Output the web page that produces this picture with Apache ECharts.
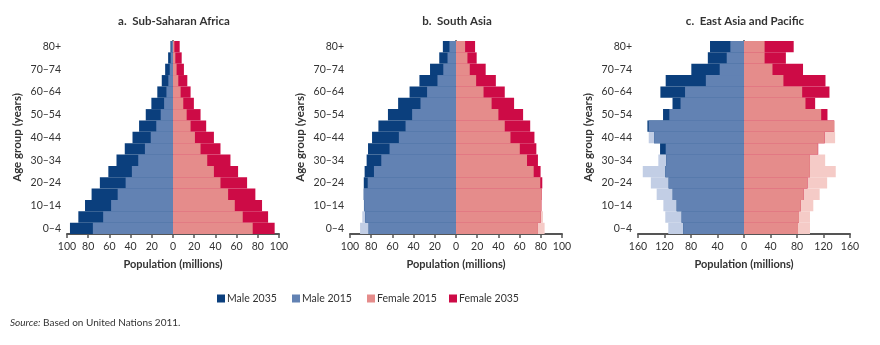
<!DOCTYPE html>
<html>
<head>
<meta charset="utf-8">
<script src="https://cdn.jsdelivr.net/npm/echarts@6/dist/echarts.min.js"></script>
<style>
html,body{margin:0;padding:0;background:#fff;}
#chart{width:880px;height:345px;}
</style>
</head>
<body>
<div id="chart"></div>
<script>
// Age groups (bottom to top)
const ageGroups = ['0–4','5–9','10–14','15–19','20–24','25–29','30–34','35–39','40–44','45–49','50–54','55–59','60–64','65–69','70–74','75–79','80+'];

// a. Sub-Saharan Africa (millions)
const maleA2015   = [75.6, 65.9, 58.4, 52.2, 44.7, 38.8, 32.8, 26.5, 21.0, 15.8, 11.6, 8.4, 6.2, 4.4, 3.1, 2.2, 1.5];
const maleA2035   = [97.2, 89.3, 83.0, 76.8, 69.0, 61.0, 53.3, 45.5, 38.2, 32.0, 25.7, 20.4, 14.8, 10.6, 7.4, 4.6, 2.4];
const femaleA2015 = [75.2, 65.8, 58.3, 52.0, 44.8, 38.6, 32.3, 26.0, 20.7, 16.6, 12.9, 9.7, 7.2, 5.0, 3.4, 2.2, 1.3];
const femaleA2035 = [95.9, 89.7, 84.0, 77.7, 69.9, 61.4, 54.2, 44.8, 38.6, 31.3, 26.0, 19.7, 16.6, 13.5, 10.3, 8.2, 6.3];

// b. South Asia
const maleB2015   = [90.5, 88.4, 87.0, 87.0, 83.3, 77.4, 70.5, 62.7, 53.9, 47.6, 41.4, 33.5, 27.3, 17.5, 12.0, 8.0, 6.2];
const maleB2035   = [82.4, 85.6, 86.6, 87.0, 87.0, 86.2, 84.3, 83.0, 79.2, 73.2, 64.2, 54.6, 43.8, 34.5, 24.5, 15.8, 12.4];
const femaleB2015 = [83.6, 82.0, 80.6, 80.8, 79.5, 73.3, 67.0, 60.2, 51.4, 46.0, 40.0, 33.6, 26.0, 19.0, 13.0, 10.8, 8.6];
const femaleB2035 = [77.3, 80.0, 80.5, 80.8, 81.4, 79.8, 77.3, 75.8, 74.0, 70.0, 63.3, 54.8, 46.0, 37.6, 28.0, 19.5, 18.0];

// c. East Asia and Pacific
const maleC2015   = [114.3, 118.8, 121.7, 131.8, 140.6, 152.8, 129.3, 118.2, 143.8, 143.8, 112.7, 95.8, 89.0, 57.6, 36.7, 26.1, 20.6];
const maleC2035   = [91.6, 94.1, 101.6, 107.6, 113.7, 118.7, 117.4, 126.7, 135.7, 145.8, 122.2, 107.9, 126.2, 118.2, 79.5, 54.6, 51.3];
const femaleC2015 = [99.6, 99.6, 104.6, 114.2, 125.5, 138.5, 122.5, 111.5, 137.5, 137.0, 116.5, 92.8, 87.8, 59.5, 43.0, 31.1, 31.1];
const femaleC2035 = [81.5, 83.0, 85.8, 90.3, 95.8, 99.5, 99.5, 112.0, 121.8, 136.0, 126.0, 107.4, 129.0, 123.0, 89.1, 63.2, 75.0];

const panelTitles = ['a.  Sub-Saharan Africa', 'b.  South Asia', 'c.  East Asia and Pacific'];
const axisMax = [100, 100, 160];
const axisStep = [20, 20, 40];
const legendNames = ['Male 2035', 'Male 2015', 'Female 2015', 'Female 2035'];

const C = {
  navy: '#0b3f7d', blue: '#6282b3', lightBlue: '#c2cee5',
  pink: '#e58c8b', red: '#cd0b46', lightPink: '#f5cbc7'
};
const FONT = 'Lato, "Noto Sans", sans-serif';
const TXT = '#333';

const panels = [
  {m15: maleA2015, m35: maleA2035, f15: femaleA2015, f35: femaleA2035},
  {m15: maleB2015, m35: maleB2035, f15: femaleB2015, f35: femaleB2035},
  {m15: maleC2015, m35: maleC2035, f15: femaleC2015, f35: femaleC2035}
];
const gridLeft = [67, 350, 638];

const grids = [], xAxes = [], yAxes = [], series = [], titles = [];
panels.forEach((p, i) => {
  grids.push({left: gridLeft[i], top: 41, width: 212, height: 193});
  titles.push({
    text: panelTitles[i], left: gridLeft[i] + 107, top: 15, padding: 0, textAlign: 'center',
    textStyle: {fontFamily: FONT, fontSize: 11.5, fontWeight: 'bold', color: TXT}
  });
  xAxes.push({
    type: 'value', gridIndex: i, min: -axisMax[i], max: axisMax[i], interval: axisStep[i],
    name: 'Population (millions)', nameLocation: 'middle', nameGap: 25,
    nameTextStyle: {fontFamily: FONT, fontSize: 11, fontWeight: 'bold', color: TXT},
    axisLine: {show: true, lineStyle: {color: '#555', width: 2}},
    axisTick: {show: true, length: 4, lineStyle: {color: '#555', width: 1.5}},
    axisLabel: {fontFamily: FONT, fontSize: 10.5, color: TXT, margin: 7, formatter: v => Math.abs(v)},
    splitLine: {show: false}
  });
  yAxes.push({
    type: 'category', gridIndex: i, data: ageGroups, boundaryGap: true,
    name: 'Age group (years)', nameLocation: 'middle', nameGap: 44, nameRotate: 90,
    nameTextStyle: {fontFamily: FONT, fontSize: 11.5, fontWeight: 'bold', color: TXT},
    axisLine: {show: true, lineStyle: {color: '#555', width: 2}},
    axisTick: {show: false},
    axisLabel: {interval: 1, fontFamily: FONT, fontSize: 10.5, color: TXT, margin: 6},
    splitLine: {show: false}
  });
  const common = {type: 'bar', xAxisIndex: i, yAxisIndex: i, barCategoryGap: 0, barGap: '-100%', barWidth: '100%'};
  // Bottom layer: 2015 (pale, visible only where 2015 exceeds 2035); middle: 2035; top: overlap of both
  const mMin = p.m15.map((v, k) => -Math.min(v, p.m35[k]));
  const fMin = p.f15.map((v, k) => Math.min(v, p.f35[k]));
  series.push(
    Object.assign({name: 'Male 2015 (excess)', data: p.m15.map(v => -v), itemStyle: {color: C.lightBlue}}, common),
    Object.assign({name: 'Male 2035', data: p.m35.map(v => -v), itemStyle: {color: C.navy}}, common),
    Object.assign({name: 'Male 2015', data: mMin, itemStyle: {color: C.blue}}, common),
    Object.assign({name: 'Female 2015 (excess)', data: p.f15, itemStyle: {color: C.lightPink}}, common),
    Object.assign({name: 'Female 2035', data: p.f35, itemStyle: {color: C.red}}, common),
    Object.assign({name: 'Female 2015', data: fMin, itemStyle: {color: C.pink}}, common)
  );
});

titles.push({
  text: '{i|Source:} Based on United Nations 2011.', left: 10, top: 318, padding: 0,
  textStyle: {fontFamily: FONT, fontSize: 10, fontWeight: 'normal', color: TXT,
    rich: {i: {fontFamily: FONT, fontSize: 10, fontStyle: 'italic', color: TXT}}}
});

const legendLeft = [217, 292, 367, 449];
const legends = legendNames.map((n, k) => ({
  data: [n], left: legendLeft[k], top: 293, padding: 0, itemWidth: 8, itemHeight: 8, itemGap: 0,
  icon: 'rect', selectedMode: false,
  textStyle: {fontFamily: FONT, fontSize: 10.5, color: TXT, padding: [0, 0, 0, -3]}
}));

const chart = echarts.init(document.getElementById('chart'), null, {renderer: 'canvas'});
chart.setOption({
  animation: false,
  backgroundColor: '#fff',
  title: titles,
  legend: legends,
  grid: grids,
  xAxis: xAxes,
  yAxis: yAxes,
  series: series
});
</script>
</body>
</html>
